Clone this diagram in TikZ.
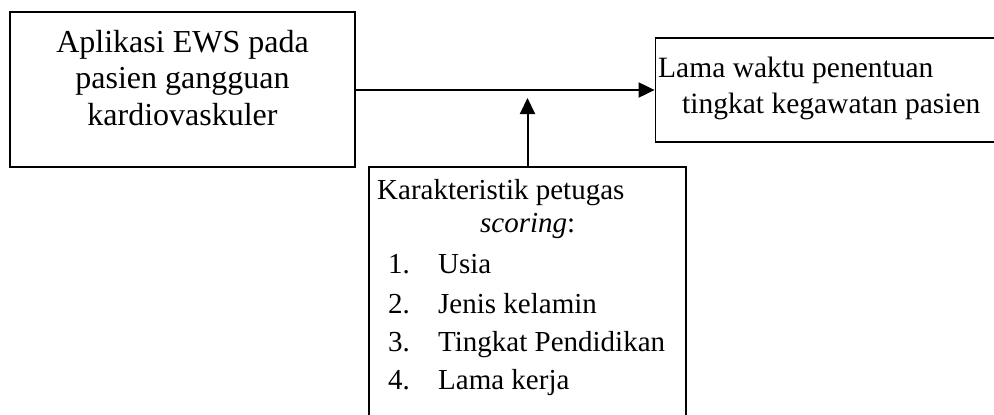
\documentclass[tikz,border=0pt]{standalone}
\usepackage{fontspec}
\setmainfont{Liberation Serif}
\usetikzlibrary{arrows.meta}
\begin{document}
\begin{tikzpicture}[x=1pt,y=-1pt,
  box/.style={draw,line width=1.8pt,rectangle,inner sep=0pt},
  txt/.style={anchor=base west,inner sep=0pt},
  ctxt/.style={anchor=base,inner sep=0pt},
  conn/.style={line width=2pt,-{Triangle[length=16pt,width=15pt]}}]
\useasboundingbox (0,0) rectangle (994,415);
\clip (0,0) rectangle (994,415);
\node[box,minimum width=345pt,minimum height=155pt] (b1) at (182.5,89.5) {};
\node[box,minimum width=345pt,minimum height=104pt] (b2) at (828,90) {};
\node[box,minimum width=317pt,minimum height=260pt] (b3) at (527.5,297) {};
% box 1 text
\begin{scope}[font=\fontsize{32}{37}\selectfont]
\node[ctxt] (t1a) at (182.5,52) {Aplikasi EWS pada};
\node[ctxt] (t1b) at (182.5,88) {pasien gangguan};
\node[ctxt] (t1c) at (182.5,125) {kardiovaskuler};
\end{scope}
% box 2 text
\begin{scope}[font=\fontsize{29.5}{35}\selectfont]
\node[txt] (t2a) at (658,77) {Lama waktu penentuan};
\node[txt] (t2b) at (682,113) {tingkat kegawatan pasien};
\end{scope}
% box 3 text
\begin{scope}[font=\fontsize{29}{35}\selectfont]
\node[txt] (t3a) at (377,199) {Karakteristik petugas};
\node[txt] (t3b) at (480,232) {\itshape scoring\upshape:};
\node[txt] (n1) at (388,273) {1.};
\node[txt] (i1) at (438,273) {Usia};
\node[txt] (n2) at (388,313) {2.};
\node[txt] (i2) at (438,313) {Jenis kelamin};
\node[txt] (n3) at (388,351) {3.};
\node[txt] (i3) at (438,351) {Tingkat Pendidikan};
\node[txt] (n4) at (388,389) {4.};
\node[txt] (i4) at (438,389) {Lama kerja};
\end{scope}
% connectors
\coordinate (tip) at (527.5,98);
\draw[conn] (b1.east |- b2.west) -- (b2.west);
\draw[conn] (b3.north) -- (tip);
\end{tikzpicture}
\end{document}
